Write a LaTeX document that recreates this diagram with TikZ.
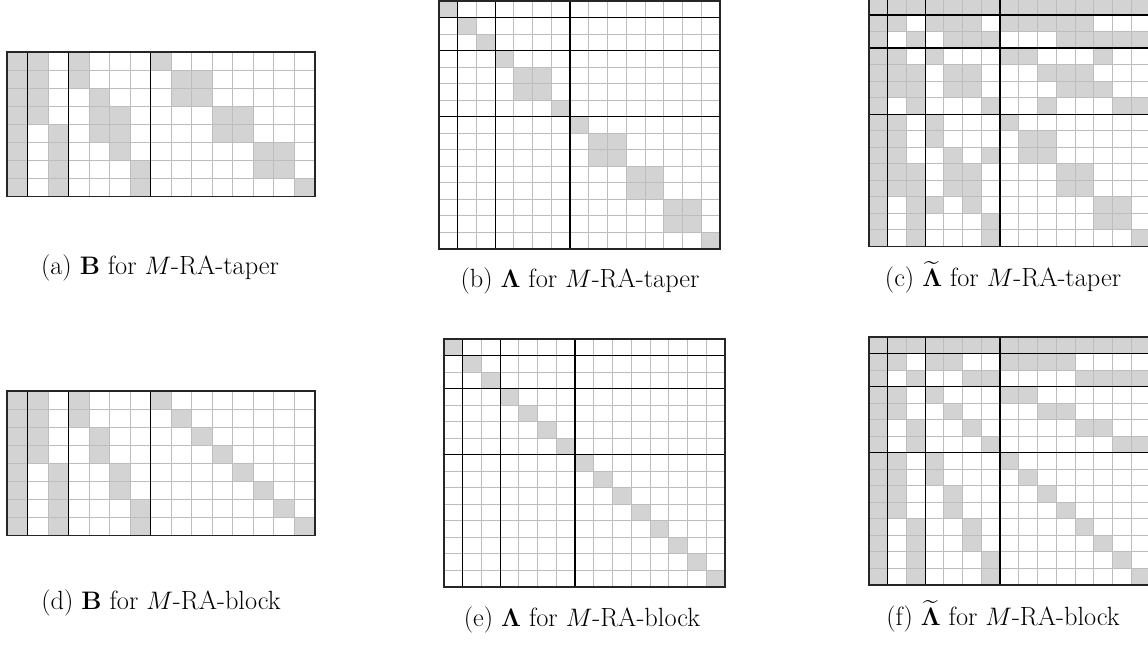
\documentclass[tikz,border=0pt]{standalone}
\usepackage{tikz}
\usepackage{amssymb}
\usepackage{bm}
\definecolor{gris}{HTML}{BDBDBD}
\definecolor{grisc}{HTML}{D3D3D3}
\newcommand{\matriz}[2]{%
  \foreach \f/\cs in {#2} \foreach \c in \cs \fill[celda] (\c,\f) rectangle ++(1,1);
  \foreach \k in {1,...,14} \draw[rejilla] (\k,0) -- (\k,#1);
  \foreach \k in {1,...,#1} \draw[rejilla] (0,\k) -- (15,\k);
  \foreach \k in {1,3,7} \draw[bloque] (\k,0) -- (\k,#1);
  \ifnum#1=15 \foreach \k in {1,3,7} \draw[bloque] (0,\k) -- (15,\k);\fi
  \draw[borde] (0,0) rectangle (15,#1);}

\begin{document}
\begin{tikzpicture}[x=0.02cm,y=-0.02cm,
  celda/.style={fill=grisc},
  rejilla/.style={draw=gris,line width=0.5pt},
  bloque/.style={draw=black,line width=0.7pt},
  borde/.style={draw=black!85,line width=0.8pt},
  ancha/.style={x=0.4106cm,y=-0.362cm},
  cuadrada/.style={x=0.3746cm,y=-0.3305cm},
  pie/.style={anchor=base,inner sep=0pt,font=\fontsize{15}{18}\selectfont}]
  \useasboundingbox (0,0) rectangle (1148,647);
  \begin{scope}[shift={(7,52)},ancha]
    \matriz{8}{0/{0,1,3,7},1/{0,1,3,8,9},2/{0,1,4,8,9},3/{0,1,4,5,10,11},
      4/{0,2,4,5,10,11},5/{0,2,5,12,13},6/{0,2,6,12,13},7/{0,2,6,14}}
  \end{scope}
  \begin{scope}[shift={(439,1)},cuadrada]
    \matriz{15}{0/0,1/1,2/2,3/3,4/{4,5},5/{4,5},6/6,7/7,8/{8,9},9/{8,9},
      10/{10,11},11/{10,11},12/{12,13},13/{12,13},14/14}
  \end{scope}
  \begin{scope}[shift={(869,-1.5)},cuadrada]
    \matriz{15}{0/{0,...,14},1/{0,1,3,4,5,7,8,9,10,11},2/{0,2,4,5,6,10,11,12,13,14},
      3/{0,1,3,7,8,12},4/{0,1,2,4,5,9,10,11},5/{0,1,2,4,5,10,11,12},
      6/{0,2,6,9,13,14},7/{0,1,3,7},8/{0,1,3,8,9},9/{0,1,4,6,8,9},
      10/{0,1,2,4,5,10,11},11/{0,1,2,4,5,10,11},12/{0,2,3,5,12,13},
      13/{0,2,6,12,13},14/{0,2,6,14}}
  \end{scope}
  \begin{scope}[shift={(7,391)},ancha]
    \matriz{8}{0/{0,1,3,7},1/{0,1,3,8},2/{0,1,4,9},3/{0,1,4,10},
      4/{0,2,5,11},5/{0,2,5,12},6/{0,2,6,13},7/{0,2,6,14}}
  \end{scope}
  \begin{scope}[shift={(444,339)},cuadrada]
    \matriz{15}{0/0,1/1,2/2,3/3,4/4,5/5,6/6,7/7,8/8,9/9,10/10,11/11,12/12,13/13,14/14}
  \end{scope}
  \begin{scope}[shift={(869,337)},cuadrada]
    \matriz{15}{0/{0,...,14},1/{0,1,3,4,7,8,9,10},2/{0,2,5,6,11,12,13,14},
      3/{0,1,3,7,8},4/{0,1,4,9,10},5/{0,2,5,11,12},6/{0,2,6,13,14},
      7/{0,1,3,7},8/{0,1,3,8},9/{0,1,4,9},10/{0,1,4,10},
      11/{0,2,5,11},12/{0,2,5,12},13/{0,2,6,13},14/{0,2,6,14}}
  \end{scope}
  \node[pie] (pa) at (160,274) {(a) $\mathbf{B}$ for $M$-RA-taper};
  \node[pie] (pb) at (580,287) {(b) $\bm{\Lambda}$ for $M$-RA-taper};
  \node[pie] (pc) at (1003,286) {(c) $\widetilde{\bm{\Lambda}}$ for $M$-RA-taper};
  \node[pie] (pd) at (161,609) {(d) $\mathbf{B}$ for $M$-RA-block};
  \node[pie] (pe) at (582,626) {(e) $\bm{\Lambda}$ for $M$-RA-block};
  \node[pie] (pf) at (1003,625) {(f) $\widetilde{\bm{\Lambda}}$ for $M$-RA-block};
\end{tikzpicture}
\end{document}
